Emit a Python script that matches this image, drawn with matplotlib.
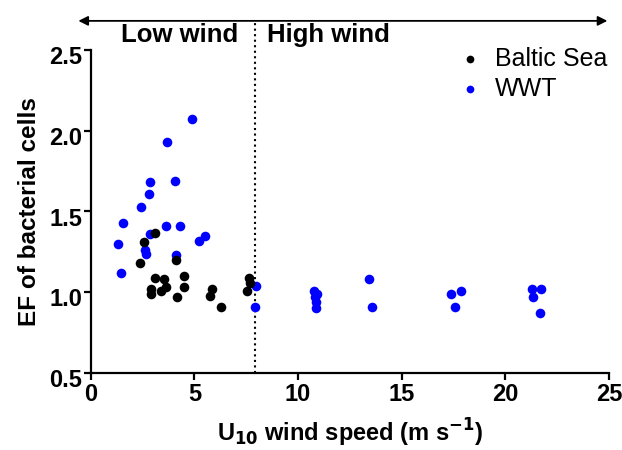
import matplotlib
matplotlib.use('Agg')

import matplotlib.pyplot as plt
import matplotlib.transforms as mtransforms

plt.rcParams['font.family'] = ['Liberation Sans', 'DejaVu Sans']

# Baltic Sea samples
baltic_u10 = [3.10, 2.59, 2.38, 4.09, 3.09, 3.51, 4.49, 2.90, 2.90, 3.39,
              3.62, 4.49, 4.17, 5.87, 5.76, 6.27, 7.64, 7.67, 7.55]
baltic_ef = [1.37, 1.31, 1.18, 1.20, 1.09, 1.08, 1.10, 1.02, 0.99, 1.01,
             1.03, 1.03, 0.97, 1.02, 0.98, 0.91, 1.09, 1.06, 1.01]

# WWT samples
wwt_u10 = [4.87, 3.67, 2.86, 4.05, 2.80, 2.43, 1.54, 3.65, 4.28, 2.85,
           5.53, 5.21, 1.30, 2.62, 2.64, 4.12, 1.45, 7.99, 7.92,
           10.78, 10.92, 10.84, 10.87, 10.87, 13.42, 13.58,
           17.39, 17.87, 17.57, 21.31, 21.70, 21.33, 21.68]
wwt_ef = [2.07, 1.93, 1.68, 1.69, 1.61, 1.53, 1.43, 1.41, 1.41, 1.36,
          1.35, 1.32, 1.30, 1.26, 1.24, 1.23, 1.12, 1.04, 0.91,
          1.01, 0.99, 0.97, 0.94, 0.90, 1.08, 0.91,
          0.99, 1.01, 0.91, 1.02, 1.02, 0.97, 0.87]

wind_split = 7.9
xticks = [0, 5, 10, 15, 20, 25]
yticks = [0.5, 1.0, 1.5, 2.0, 2.5]

fig = plt.figure(figsize=(6.22, 4.5), dpi=100)
ax = fig.add_axes([0.146, 0.171, 0.833, 0.718])

h_wwt = ax.scatter(wwt_u10, wwt_ef, s=48, color='#0000ff', label='WWT',
                   linewidths=0, zorder=3)
h_bal = ax.scatter(baltic_u10, baltic_ef, s=48, color='black',
                   label='Baltic Sea', linewidths=0, zorder=4)

ax.set_xlim(0, 25)
ax.set_ylim(0.5, 2.5)
ax.set_xticks(xticks)
ax.set_yticks(yticks)
ax.set_xticklabels([str(t) for t in xticks])
ax.set_yticklabels(['%.1f' % t for t in yticks])

for s in ['top', 'right']:
    ax.spines[s].set_visible(False)
for s in ['left', 'bottom']:
    ax.spines[s].set_linewidth(1.6)
ax.tick_params(width=1.6, length=5, labelsize=17)
ax.tick_params(axis='y', pad=1)
ax.tick_params(axis='x', pad=2)
# labels sit a little below their ticks, like the original
shift = mtransforms.ScaledTranslation(0, -0.05, fig.dpi_scale_trans)
for lab in ax.get_yticklabels():
    lab.set_transform(lab.get_transform() + shift)
for lab in ax.get_xticklabels() + ax.get_yticklabels():
    lab.set_fontweight('bold')

ax.set_xlabel('U$_{\\mathbf{10}}$ wind speed (m s$^{\\mathbf{-1}}$)',
              fontsize=17, fontweight='bold', labelpad=8)
ax.set_ylabel('EF of bacterial cells', fontsize=17.5, fontweight='bold',
              labelpad=6)

# low / high wind separator and arrow
ax.axvline(wind_split, ymin=0, ymax=1.085, color='black', linestyle=':',
           linewidth=1.5, clip_on=False)
ax.annotate('', xy=(-0.024, 1.09), xytext=(0.997, 1.09),
            xycoords='axes fraction', textcoords='axes fraction',
            arrowprops=dict(arrowstyle='<|-|>', color='black', lw=1.3,
                            mutation_scale=14, shrinkA=0, shrinkB=0))
ax.text(4.3, 1.045, 'Low wind', transform=ax.get_xaxis_transform(),
        ha='center', va='center', fontsize=18.5, fontweight='bold')
ax.text(8.5, 1.045, 'High wind', transform=ax.get_xaxis_transform(),
        ha='left', va='center', fontsize=18.5, fontweight='bold')

ax.legend(handles=[h_bal, h_wwt], loc='upper right', frameon=False,
          fontsize=18, bbox_to_anchor=(1.04, 1.08), handlelength=1.0,
          handletextpad=0.5, labelspacing=0.25, scatterpoints=1,
          markerscale=0.8)

plt.savefig('out.png', dpi=100)
